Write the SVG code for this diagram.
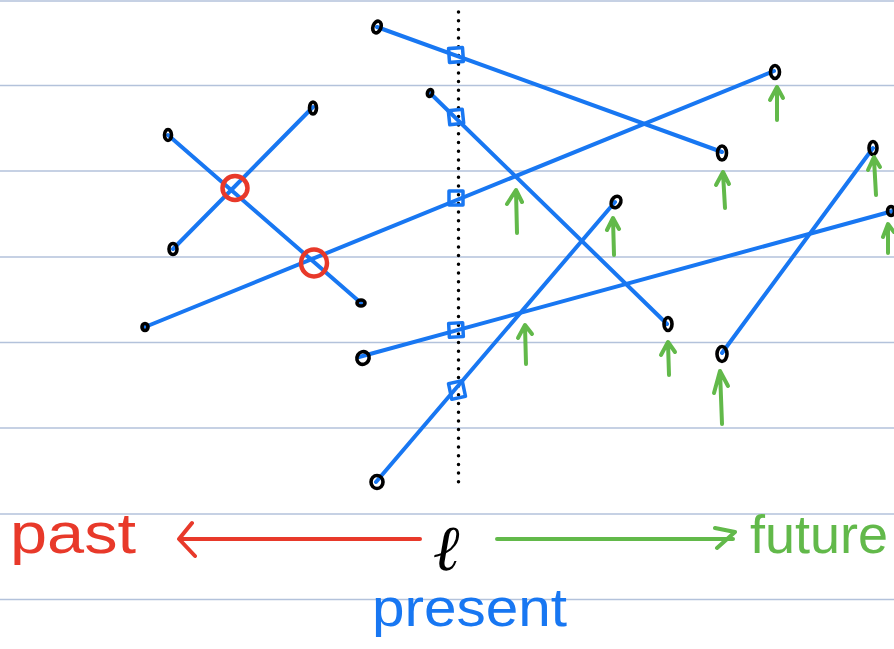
<svg xmlns="http://www.w3.org/2000/svg" width="894" height="649" viewBox="0 0 894 649">
<defs>
<style>
.rule{stroke:#b3c2db;stroke-width:1.5}
.seg{stroke:#1877f2;stroke-width:4;stroke-linecap:round;fill:none}
.sq{stroke:#1877f2;stroke-width:3.5;fill:none;stroke-linejoin:round}
.pt{stroke:#000;stroke-width:3.6;fill:none}
.up{stroke:#62b94a;stroke-width:4;stroke-linecap:round;stroke-linejoin:round;fill:none}
.ring{stroke:#e8392a;stroke-width:4.5;fill:none}
.hand{font-family:"Liberation Sans","DejaVu Sans",sans-serif}
</style>
</defs>
<rect width="894" height="649" fill="#fff"/>
<g id="rules">
<line class="rule" x1="0" y1="1" x2="894" y2="1"/>
<line class="rule" x1="0" y1="85.5" x2="894" y2="85.5"/>
<line class="rule" x1="0" y1="171" x2="894" y2="171"/>
<line class="rule" x1="0" y1="257" x2="894" y2="257"/>
<line class="rule" x1="0" y1="342.5" x2="894" y2="342.5"/>
<line class="rule" x1="0" y1="428" x2="894" y2="428"/>
<line class="rule" x1="0" y1="514" x2="894" y2="514"/>
<line class="rule" x1="0" y1="599.5" x2="894" y2="599.5"/>
</g>
<g id="present-line">
<line x1="458.5" y1="12" x2="458.5" y2="486" stroke="#000" stroke-width="3.5" stroke-linecap="round" stroke-dasharray="0 8.7"/>
</g>
<g id="connectors">
<line class="seg" x1="377" y1="27" x2="722" y2="152"/>
<line class="seg" x1="430" y1="93" x2="667" y2="324"/>
<line class="seg" x1="145" y1="327" x2="774" y2="71"/>
<line class="seg" x1="168" y1="135" x2="361" y2="303"/>
<line class="seg" x1="173" y1="249" x2="313" y2="107"/>
<line class="seg" x1="359" y1="357" x2="893" y2="211"/>
<line class="seg" x1="376" y1="482" x2="615" y2="202"/>
<line class="seg" x1="722" y1="353" x2="873" y2="148"/>
</g>
<g id="squares">
<rect class="sq" x="449" y="48" width="14" height="14" transform="rotate(-4 456 55)"/>
<rect class="sq" x="449" y="110" width="14" height="14" transform="rotate(-6 456 117)"/>
<rect class="sq" x="449" y="191" width="14" height="14"/>
<rect class="sq" x="449" y="323" width="14" height="14" transform="rotate(-3 456 330)"/>
<rect class="sq" x="450" y="382" width="14" height="16" transform="rotate(-12 457 390)"/>
</g>
<g id="rings">
<ellipse class="ring" cx="235" cy="188" rx="12.5" ry="12"/>
<ellipse class="ring" cx="314" cy="263" rx="13" ry="13.5"/>
</g>
<g id="endpoints">
<ellipse class="pt" cx="377" cy="27" rx="4" ry="6" transform="rotate(20 377 27)"/>
<ellipse class="pt" cx="430" cy="93" rx="2.5" ry="3.5" transform="rotate(20 430 93)"/>
<ellipse class="pt" cx="722" cy="153" rx="4.5" ry="7"/>
<ellipse class="pt" cx="668" cy="324" rx="4" ry="6.5"/>
<ellipse class="pt" cx="145" cy="327" rx="3" ry="3.5"/>
<ellipse class="pt" cx="775" cy="72" rx="4.5" ry="6.5"/>
<ellipse class="pt" cx="168" cy="135" rx="3.5" ry="5.5"/>
<ellipse class="pt" cx="361" cy="303" rx="4" ry="3"/>
<ellipse class="pt" cx="173" cy="249" rx="4" ry="5.5"/>
<ellipse class="pt" cx="313" cy="108" rx="3.5" ry="6"/>
<ellipse class="pt" cx="363" cy="358" rx="6" ry="6.5" transform="rotate(30 363 358)"/>
<ellipse class="pt" cx="891" cy="211" rx="3.5" ry="4.5"/>
<ellipse class="pt" cx="377" cy="482" rx="6" ry="6.5"/>
<ellipse class="pt" cx="616" cy="202" rx="4.5" ry="6" transform="rotate(30 616 202)"/>
<ellipse class="pt" cx="722" cy="354" rx="5" ry="7.5"/>
<ellipse class="pt" cx="873" cy="148" rx="4" ry="6.5"/>
</g>
<g id="future-arrows">
<path class="up" d="M517 233 L516 191 M507 204 L516 190 L522 202"/>
<path class="up" d="M614 255 L613 219 M607 230 L613 218 L619 229"/>
<path class="up" d="M725 208 L723 173 M716 185 L723 172 L729 184"/>
<path class="up" d="M777 120 L777 87 M770 100 L777 87 L783 98"/>
<path class="up" d="M876 195 L874 159 M868 170 L874 157 L880 167"/>
<path class="up" d="M888 253 L888 225 M883 237 L888 224 L894 232"/>
<path class="up" d="M526 364 L525 326 M518 338 L525 325 L532 334"/>
<path class="up" d="M669 375 L668 343 M661 355 L668 342 L675 352"/>
<path class="up" d="M722 424 L720 371 M714 393 L720 371 L728 386"/>
</g>
<g id="timeline">
<path d="M420 539 L180 539 M192 523 L179 539 L195 556" stroke="#e8392a" stroke-width="4" stroke-linecap="round" stroke-linejoin="round" fill="none"/>
<path d="M497 539 L733 539 M715 528 L735 532 L717 548" stroke="#62b94a" stroke-width="4" stroke-linecap="round" stroke-linejoin="round" fill="none"/>
</g>
<g id="labels">
<text class="hand" x="10" y="553" font-size="58" fill="#e8392a" textLength="126" lengthAdjust="spacingAndGlyphs">past</text>
<text x="434" y="570" font-family="'Liberation Serif','DejaVu Serif',serif" font-style="italic" font-weight="bold" font-size="64" fill="#000">ℓ</text>
<text class="hand" x="750" y="553" font-size="54" fill="#62b94a">future</text>
<text class="hand" x="372" y="626" font-size="54" fill="#1877f2" textLength="195" lengthAdjust="spacingAndGlyphs">present</text>
</g>
</svg>
